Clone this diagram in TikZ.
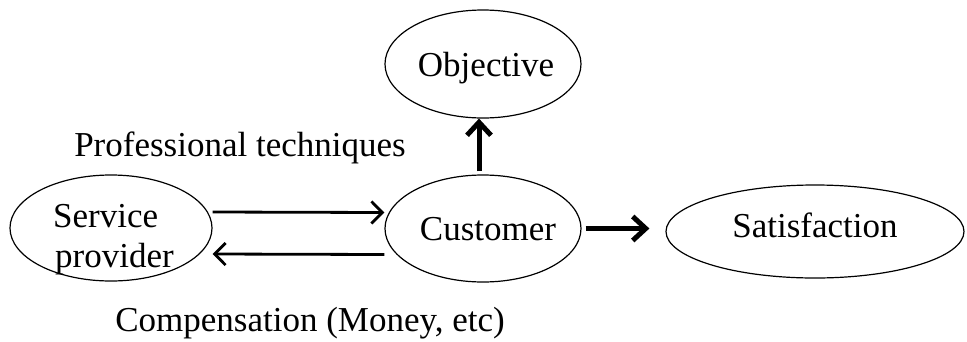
\documentclass[tikz,border=0pt]{standalone}
\usepackage{fontspec}
\setmainfont{Liberation Serif}
\usetikzlibrary{shapes.geometric,arrows.meta}
\begin{document}
\begin{tikzpicture}[x=1pt,y=-1pt,
  ell/.style={draw, ellipse, line width=1.2pt, inner sep=0pt},
  txt/.style={inner sep=0pt, font=\fontsize{35}{41}\selectfont},
  thinarrow/.style={line width=2.8pt, -{Straight Barb[length=11pt,width=22pt]}},
  thickarrow/.style={line width=5pt, -{Straight Barb[length=13pt,width=24pt]}}]
\useasboundingbox (0,0) rectangle (967,341);
% ellipses
\node[ell, minimum width=202pt, minimum height=106pt] (sp) at (111,228) {};
\node[ell, minimum width=196pt, minimum height=107pt] (cu) at (483,228.5) {};
\node[ell, minimum width=196pt, minimum height=108pt] (ob) at (483,64) {};
\node[ell, minimum width=298pt, minimum height=93pt] (sat) at (815,231.5) {};
% texts
\node[txt, anchor=base west] (spt1) at (53,227) {Service};
\node[txt, anchor=base west] (spt2) at (55,267) {provider};
\node[txt, anchor=base] (cut) at (488,240) {Customer};
\node[txt, anchor=base] (obt) at (486,76) {Objective};
\node[txt, anchor=base] (satt) at (815,237) {Satisfaction};
\node[txt, anchor=base] (prof) at (240,156) {Professional techniques};
\node[txt, anchor=base] (comp) at (310,331) {Compensation (Money, etc)};
% connectors
\draw[thinarrow] ([yshift=16pt]sp.east) -- ([yshift=16pt]cu.west);
\draw[thinarrow] ([yshift=-26pt]cu.west) -- ([yshift=-26pt]sp.east);
\draw[thickarrow, shorten <=3pt] ([xshift=-4pt]cu.north) -- ([xshift=-4pt]cu.north |- ob.south);
\draw[thickarrow, shorten <=4pt, shorten >=16pt] (cu.east) -- (cu.east -| sat.west);
\end{tikzpicture}
\end{document}
